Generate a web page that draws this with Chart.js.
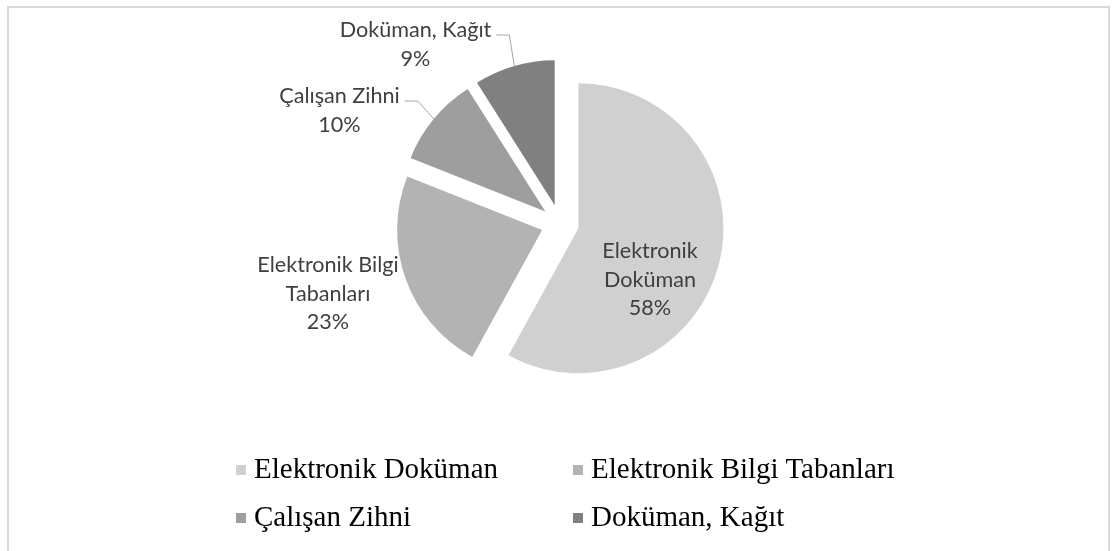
<!DOCTYPE html>
<html>
<head>
<meta charset="utf-8">
<script src="https://cdn.jsdelivr.net/npm/chart.js@4/dist/chart.umd.min.js"></script>
<style>
  html, body { margin: 0; padding: 0; background: #fff; overflow: hidden; }
  #wrap { position: relative; width: 1117px; height: 551px; }
  #frame {
    position: absolute; left: 7px; top: 6px; width: 1103px; height: 600px;
    box-sizing: border-box;
    border: 2px solid #d9d9d9; border-bottom: none;
  }
  #chart { position: absolute; left: 0; top: 0; }
  #legend {
    position: absolute; left: 236px; top: 444px;
    display: grid; grid-template-columns: 337px 337px; grid-auto-rows: 48px;
    font-family: "Liberation Serif", "Times New Roman", serif; font-size: 29px;
    line-height: 48px; color: #000;
  }
  #legend .item { position: relative; padding-left: 18px; white-space: nowrap; }
  #legend .swatch { position: absolute; left: 0; top: 21px; width: 10px; height: 10px; }
</style>
</head>
<body>
<div id="wrap">
  <div id="frame"></div>
  <canvas id="chart" width="1117" height="551"></canvas>
  <div id="legend"></div>
</div>
<script>
  // data
  const labels = ['Elektronik Doküman', 'Elektronik Bilgi Tabanları', 'Çalışan Zihni', 'Doküman, Kağıt'];
  const shares = [58, 23, 10, 9];
  const sliceColors = ['#d0d0d0', '#b3b3b3', '#9e9e9e', '#808080'];

  // layout
  const CENTER = { x: 560, y: 223.5 };
  const RADIUS = 145;
  const EXPLODE = 19;
  const LABEL_FONT = '21.6px Lato';
  const LINE_H = 28.5;
  // first baseline of each label block, relative to the pie centre
  const labelSpots = [
    { dx: 90, dy: 34.5, wrap: 115, leader: false },
    { dx: -232, dy: 48.5, wrap: 150, leader: false },
    { dx: -220.5, dy: -120.5, wrap: 220, leader: true },
    { dx: -144.5, dy: -186.5, wrap: 220, leader: true },
  ];

  const total = shares.reduce((a, b) => a + b, 0);

  const wrapText = (ctx, text, maxWidth) => {
    const words = text.split(' ');
    const lines = [];
    let line = '';
    words.forEach(word => {
      const test = line ? line + ' ' + word : word;
      if (line && ctx.measureText(test).width > maxWidth) {
        lines.push(line);
        line = word;
      } else {
        line = test;
      }
    });
    if (line) lines.push(line);
    return lines;
  };

  // pull every slice out along its middle angle
  const explodeSlices = {
    id: 'explodeSlices',
    afterDatasetsUpdate(chart) {
      chart.getDatasetMeta(0).data.forEach(arc => {
        const mid = (arc.startAngle + arc.endAngle) / 2;
        arc.x += Math.cos(mid) * EXPLODE;
        arc.y += Math.sin(mid) * EXPLODE;
      });
    }
  };

  const sliceLabels = {
    id: 'sliceLabels',
    afterDatasetsDraw(chart) {
      const ctx = chart.ctx;
      const arcs = chart.getDatasetMeta(0).data;
      ctx.save();
      ctx.font = LABEL_FONT;
      ctx.fillStyle = '#3f3f3f';
      ctx.textAlign = 'center';
      ctx.textBaseline = 'alphabetic';
      arcs.forEach((arc, i) => {
        const spot = labelSpots[i];
        const mid = (arc.startAngle + arc.endAngle) / 2;
        const cx = arc.x - Math.cos(mid) * EXPLODE + spot.dx;
        const baseY = CENTER.y + spot.dy;
        const lines = wrapText(ctx, labels[i], spot.wrap);
        lines.push(Math.round(shares[i] / total * 100) + '%');
        lines.forEach((line, j) => ctx.fillText(line, cx, baseY + j * LINE_H));

        if (spot.leader) {
          const startX = cx + ctx.measureText(lines[0]).width / 2 + 5;
          const lineY = baseY - 2;
          const endX = arc.x + Math.cos(mid) * (arc.outerRadius - 1);
          const endY = arc.y + Math.sin(mid) * (arc.outerRadius - 1);
          ctx.beginPath();
          ctx.strokeStyle = '#a6a6a6';
          ctx.lineWidth = 1;
          ctx.moveTo(startX, lineY);
          ctx.lineTo(startX + 13, lineY);
          ctx.lineTo(endX, endY);
          ctx.stroke();
        }
      });
      ctx.restore();
    }
  };

  const chart = new Chart(document.getElementById('chart').getContext('2d'), {
    type: 'pie',
    data: {
      labels: labels,
      datasets: [{
        data: shares,
        backgroundColor: sliceColors,
        borderWidth: 0,
      }]
    },
    options: {
      responsive: false,
      animation: false,
      radius: RADIUS,
      layout: { padding: { left: 3, right: 0, top: 0, bottom: 104 } },
      plugins: {
        legend: { display: false },
        tooltip: { enabled: false },
      }
    },
    plugins: [explodeSlices, sliceLabels]
  });

  // legend in two columns, like the original
  const legendBox = document.getElementById('legend');
  labels.forEach((name, i) => {
    const item = document.createElement('div');
    item.className = 'item';
    const swatch = document.createElement('span');
    swatch.className = 'swatch';
    swatch.style.background = sliceColors[i];
    item.appendChild(swatch);
    item.appendChild(document.createTextNode(name));
    legendBox.appendChild(item);
  });
</script>
</body>
</html>
